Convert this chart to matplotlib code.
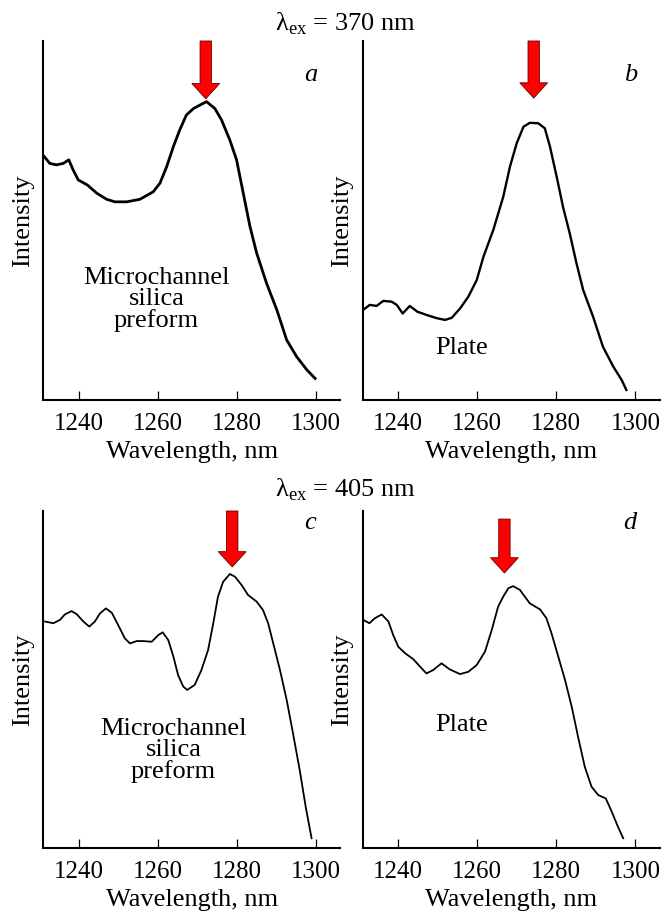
import matplotlib
matplotlib.use("Agg")
import matplotlib.pyplot as plt

plt.rcParams['font.family'] = ['Liberation Serif', 'DejaVu Serif']
plt.rcParams['mathtext.fontset'] = 'custom'
plt.rcParams['mathtext.rm'] = 'Liberation Serif'

# ---- data (wavelength nm, normalized intensity) ----
wl_a = [1231.3, 1232.7, 1234.4, 1236.1, 1237.5, 1238.6, 1239.9, 1242.2, 1244.6, 1247.1,
        1249.2, 1252.2, 1255.5, 1258.9, 1260.6, 1262.3, 1264.0, 1265.6, 1267.3, 1269.1,
        1270.8, 1272.4, 1274.5, 1276.2, 1278.3, 1280.0, 1281.7, 1283.4, 1285.1, 1287.6,
        1290.2, 1292.7, 1295.2, 1297.8, 1299.9]
int_a = [0.678, 0.659, 0.655, 0.659, 0.669, 0.641, 0.613, 0.599, 0.576, 0.559,
         0.552, 0.552, 0.559, 0.580, 0.604, 0.650, 0.706, 0.752, 0.794, 0.812,
         0.822, 0.831, 0.812, 0.780, 0.724, 0.669, 0.576, 0.483, 0.409, 0.325,
         0.251, 0.167, 0.121, 0.084, 0.060]

wl_b = [1231.2, 1232.9, 1234.6, 1236.3, 1238.4, 1239.7, 1241.2, 1243.0, 1244.9, 1247.2,
        1249.8, 1251.9, 1253.6, 1255.7, 1257.8, 1259.9, 1261.6, 1264.1, 1266.6, 1268.3,
        1270.0, 1271.7, 1273.3, 1275.4, 1277.1, 1278.4, 1280.1, 1281.7, 1283.4, 1285.1,
        1286.8, 1289.3, 1291.8, 1294.4, 1296.5, 1297.7]
int_b = [0.251, 0.265, 0.262, 0.276, 0.274, 0.265, 0.241, 0.262, 0.246, 0.237,
         0.228, 0.223, 0.229, 0.255, 0.288, 0.334, 0.399, 0.474, 0.566, 0.650,
         0.715, 0.761, 0.772, 0.771, 0.757, 0.706, 0.622, 0.538, 0.464, 0.381,
         0.306, 0.232, 0.148, 0.093, 0.056, 0.028]

wl_c = [1231.5, 1233.6, 1235.3, 1236.5, 1238.2, 1239.5, 1241.2, 1242.7, 1244.1, 1245.4,
        1246.9, 1248.4, 1250.0, 1251.7, 1253.0, 1254.7, 1256.4, 1258.5, 1260.2, 1261.3,
        1262.7, 1264.0, 1265.2, 1266.5, 1267.5, 1269.4, 1271.1, 1272.8, 1274.1, 1275.3,
        1276.6, 1278.3, 1279.6, 1281.3, 1282.9, 1285.1, 1286.7, 1288.0, 1289.3, 1291.0,
        1292.7, 1294.3, 1296.0, 1297.5, 1299.0]
int_c = [0.672, 0.667, 0.677, 0.693, 0.703, 0.694, 0.672, 0.657, 0.672, 0.696,
         0.711, 0.698, 0.662, 0.622, 0.607, 0.614, 0.614, 0.612, 0.632, 0.640,
         0.617, 0.568, 0.513, 0.479, 0.469, 0.484, 0.528, 0.588, 0.667, 0.746,
         0.790, 0.813, 0.805, 0.780, 0.751, 0.731, 0.706, 0.667, 0.607, 0.528,
         0.439, 0.340, 0.231, 0.123, 0.029]

wl_d = [1231.2, 1232.8, 1234.2, 1235.9, 1237.6, 1238.8, 1240.1, 1241.8, 1243.9, 1245.6,
        1247.2, 1248.9, 1251.0, 1253.1, 1255.7, 1257.8, 1259.9, 1262.0, 1263.7, 1265.3,
        1266.6, 1267.9, 1269.1, 1270.8, 1273.3, 1275.9, 1277.5, 1278.8, 1280.5, 1282.2,
        1283.9, 1285.5, 1287.2, 1288.9, 1290.6, 1292.5, 1294.0, 1295.4, 1296.9]
int_d = [0.677, 0.667, 0.682, 0.693, 0.672, 0.632, 0.597, 0.578, 0.560, 0.538,
         0.518, 0.528, 0.548, 0.530, 0.516, 0.523, 0.543, 0.583, 0.647, 0.716,
         0.746, 0.771, 0.777, 0.766, 0.726, 0.708, 0.682, 0.637, 0.568, 0.499,
         0.419, 0.330, 0.241, 0.182, 0.157, 0.147, 0.108, 0.068, 0.029]

panel_letters = ['a', 'b', 'c', 'd']
sample_labels = ['Microchannel\nsilica\npreform', 'Plate', 'Microchannel\nsilica\npreform', 'Plate']
# arrow (peak marker): x position, tip height, top height (axes fraction)
arrow_x = [1272.2, 1274.3, 1278.9, 1266.9]
arrow_tip = [0.839, 0.841, 0.834, 0.816]
arrow_top = [1.0, 1.0, 1.0, 0.976]
titles = ['λ$_{\\rm ex}$ = 370 nm', 'λ$_{\\rm ex}$ = 405 nm']
xticks = [1240, 1260, 1280, 1300]

W, H = 662, 913
fig = plt.figure(figsize=(W / 100, H / 100), dpi=100)

def frac_rect(x0, x1, ytop, ybot):
    return [x0 / W, 1 - ybot / H, (x1 - x0) / W, (ybot - ytop) / H]

rects = [frac_rect(43.5, 340, 41, 400), frac_rect(362.7, 660, 41, 400),
         frac_rect(43.5, 340, 511, 848), frac_rect(362.7, 660, 511, 848)]
data = [(wl_a, int_a), (wl_b, int_b), (wl_c, int_c), (wl_d, int_d)]
lws = [2.0, 1.7, 1.3, 1.3]
text_pos = [(1259.7, 0.28), (1256.1, 0.145), (1264.0, 0.29), (1256.1, 0.365)]

for i in range(4):
    ax = fig.add_axes(rects[i])
    wl, it = data[i]
    ax.plot(wl, it, color='black', lw=lws[i], solid_joinstyle='round')
    ax.set_xlim(1231.1, 1306.2)
    ax.set_ylim(0, 1)
    for s in ['top', 'right']:
        ax.spines[s].set_visible(False)
    for s in ['left', 'bottom']:
        ax.spines[s].set_linewidth(1.5)
    ax.set_yticks([])
    ax.set_xticks(xticks)
    ax.tick_params(axis='x', direction='in', length=6.5, width=0.9, labelsize=18, pad=9)
    ax.set_xlabel('Wavelength, nm', fontsize=19, labelpad=5)
    ax.set_ylabel('Intensity', fontsize=19, labelpad=7)
    ax.text(1298.7, 0.905 if i < 2 else 0.963, panel_letters[i], fontsize=19,
            style='italic', ha='center', va='center')
    tx, ty = text_pos[i]
    ax.text(tx, ty, sample_labels[i], fontsize=19, ha='center', va='center',
            linespacing=0.95)
    ax.annotate('', xy=(arrow_x[i], arrow_tip[i]), xytext=(arrow_x[i], arrow_top[i]),
                xycoords=('data', 'axes fraction'), textcoords=('data', 'axes fraction'),
                arrowprops=dict(arrowstyle='simple,head_length=1.1,head_width=2.0,tail_width=0.82',
                                mutation_scale=10, fc='#ff0000', ec='#600000', lw=0.6,
                                shrinkA=0, shrinkB=0))

fig.text(345 / W, 1 - 24 / H, titles[0], fontsize=19, ha='center', va='center')
fig.text(345 / W, 1 - 490 / H, titles[1], fontsize=19, ha='center', va='center')

fig.savefig('out.png', dpi=100)
